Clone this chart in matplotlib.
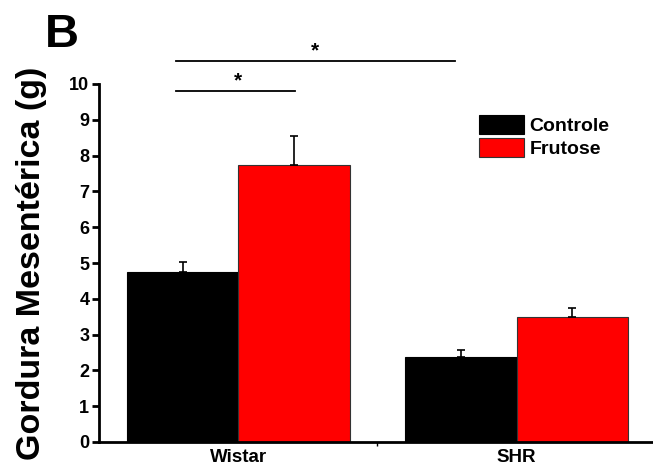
import matplotlib
matplotlib.use("Agg")
import matplotlib.pyplot as plt
import numpy as np

plt.rcParams['font.family'] = ['Liberation Sans', 'DejaVu Sans']

groups = ["Wistar", "SHR"]
series = ["Controle", "Frutose"]
controle = [4.75, 2.37]
controle_err = [0.28, 0.2]
frutose = [7.74, 3.5]
frutose_err = [0.82, 0.24]
colors = ["#000000", "#ff0000"]
yticks = list(range(0, 11))

fig = plt.figure(figsize=(6.53, 4.68), dpi=100)
ax = fig.add_axes([99/653, 26/468, 1 - 99/653, 358/468])

x = np.array([1.0, 2.0])
w = 0.4
ekw = dict(ecolor="black", elinewidth=1.2, capsize=3, capthick=1.2)
ax.bar(x - w/2, controle, w, color=colors[0], edgecolor="#000000", linewidth=0.8,
       yerr=[np.zeros(2), controle_err], error_kw=ekw, label=series[0], zorder=2)
ax.bar(x + w/2, frutose, w, color=colors[1], edgecolor="#333333", linewidth=0.8,
       yerr=[np.zeros(2), frutose_err], error_kw=ekw, label=series[1], zorder=2)

ax.set_xlim(0.5, 2.49)
ax.set_ylim(0, 10)
ax.set_yticks(yticks)
ax.set_yticklabels([str(t) for t in yticks], fontsize=13, fontweight="bold")
ax.set_xticks(x)
ax.set_xticklabels(groups, fontsize=13.5, fontweight="bold")
ax.tick_params(axis="x", length=0, pad=5)
ax.set_xticks([1.5], minor=True)
ax.tick_params(axis="x", which="minor", length=3, width=1, direction="out")
ax.tick_params(axis="y", length=5, width=2, direction="out", pad=2)
for s in ["top", "right"]:
    ax.spines[s].set_visible(False)
ax.spines["left"].set_linewidth(2)
ax.spines["bottom"].set_linewidth(2)

ax.set_ylabel("Gordura Mesentérica (g)", fontsize=24.5, fontweight="bold", labelpad=16)

# significance annotations
ax.plot([0.778, 1.204], [9.8, 9.8], color="black", lw=1.3, clip_on=False)
ax.text(1.0, 9.83, "*", ha="center", va="bottom", fontsize=15, fontweight="bold")
ax.plot([0.778, 1.78], [10.64, 10.64], color="black", lw=1.3, clip_on=False)
ax.text(1.275, 10.67, "*", ha="center", va="bottom", fontsize=15, fontweight="bold")

leg = ax.legend(loc="upper left", bbox_to_anchor=(0.686, 0.913), frameon=False,
                prop=dict(size=14, weight="bold"), handlelength=2.3, handleheight=1.13,
                handletextpad=0.3, labelspacing=0.15, borderpad=0, borderaxespad=0)

fig.text(45/653, 1 - 35/468, "B", fontsize=34, fontweight="bold", va="center", ha="left")

fig.savefig("out.png", dpi=100)
